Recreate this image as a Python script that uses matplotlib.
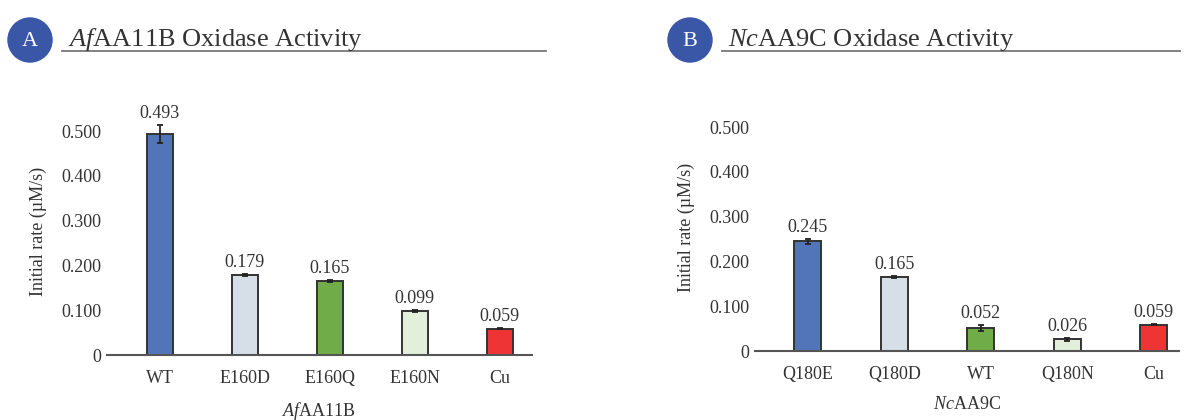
import numpy as np
import matplotlib
matplotlib.use('Agg')
import matplotlib.pyplot as plt
from matplotlib.patches import Ellipse
from matplotlib.lines import Line2D

plt.rcParams['font.family'] = 'Liberation Serif'
plt.rcParams['mathtext.fontset'] = 'custom'
plt.rcParams['mathtext.rm'] = 'Liberation Serif'
plt.rcParams['mathtext.it'] = 'Liberation Serif:italic'

# AfAA11B variants
af_names = ['WT', 'E160D', 'E160Q', 'E160N', 'Cu']
af_rates = [0.493, 0.179, 0.165, 0.099, 0.059]
af_err = [0.020, 0.002, 0.002, 0.002, 0.002]

# NcAA9C variants
nc_names = ['Q180E', 'Q180D', 'WT', 'Q180N', 'Cu']
nc_rates = [0.245, 0.165, 0.052, 0.026, 0.059]
nc_err = [0.006, 0.002, 0.007, 0.003, 0.002]

bar_colors = ['#5275B9', '#D6DFE8', '#70AC48', '#E2EFDA', '#EE3434']
yticks = [0, 0.1, 0.2, 0.3, 0.4, 0.5]
ytick_labels = ['0', '0.100', '0.200', '0.300', '0.400', '0.500']

txt = '#333333'
fs = 13
W, H = 1192, 420

fig = plt.figure(figsize=(W / 100, H / 100), dpi=100)


def px_axes(left, bottom, width, height):
    return fig.add_axes([left / W, 1 - bottom / H, width / W, height / H])


def draw_panel(ax, names, rates, err, xlim, xlabel):
    x = np.arange(len(names))
    ax.bar(x, rates, width=0.31, color=bar_colors, edgecolor='#333333',
           linewidth=1.4, zorder=2)
    ax.errorbar(x, rates, yerr=err, fmt='none', ecolor='#222222',
                elinewidth=1.3, capsize=2.5, capthick=1.3, zorder=3)
    for xi, r, e in zip(x, rates, err):
        ax.annotate(f'{r:.3f}', (xi, r + e), xytext=(0, 2),
                    textcoords='offset points', ha='center', va='bottom',
                    fontsize=fs, color=txt)
    ax.set_xlim(*xlim)
    ax.set_ylim(0, 0.55)
    ax.set_yticks(yticks)
    ax.set_yticklabels(ytick_labels)
    ax.set_xticks(x)
    ax.set_xticklabels(names)
    ax.tick_params(axis='both', length=0, labelsize=fs, labelcolor=txt)
    ax.tick_params(axis='y', pad=4)
    ax.tick_params(axis='x', pad=11)
    for s in ['top', 'right', 'left']:
        ax.spines[s].set_visible(False)
    ax.spines['bottom'].set_color('#555555')
    ax.spines['bottom'].set_linewidth(1.5)
    ax.set_ylabel('Initial rate (µM/s)', fontsize=fs, color=txt)
    ax.yaxis.set_label_coords(-0.142, 0.5)
    ax.set_xlabel(xlabel, fontsize=fs, color=txt, labelpad=9)
    ax.patch.set_alpha(0)


def panel_header(cx, letter, title, line_end):
    fig.add_artist(Ellipse((cx / W, 1 - 40 / H), 44 / W, 44 / H,
                           color='#3A56A6', transform=fig.transFigure))
    fig.text(cx / W, 1 - 41 / H, letter, color='white', fontsize=16,
             ha='center', va='center')
    fig.text((cx + 38) / W, 1 - 46 / H, title, color=txt, fontsize=19,
             ha='left', va='baseline')
    fig.add_artist(Line2D([(cx + 32) / W, line_end / W], [1 - 51 / H] * 2,
                          color='#777777', lw=1.3))


ax_a = px_axes(107, 355, 425, 246.4)
draw_panel(ax_a, af_names, af_rates, af_err, (-0.62, 4.38), r'$\mathit{Af}$AA11B')

ax_b = px_axes(755, 351, 424, 246.4)
draw_panel(ax_b, nc_names, nc_rates, nc_err, (-0.61, 4.29), r'$\mathit{Nc}$AA9C')

panel_header(30, 'A', r'$\mathit{Af}$AA11B Oxidase Activity', 546)
panel_header(690, 'B', r'$\mathit{Nc}$AA9C Oxidase Activity', 1180)

fig.savefig('out.png', dpi=100)
